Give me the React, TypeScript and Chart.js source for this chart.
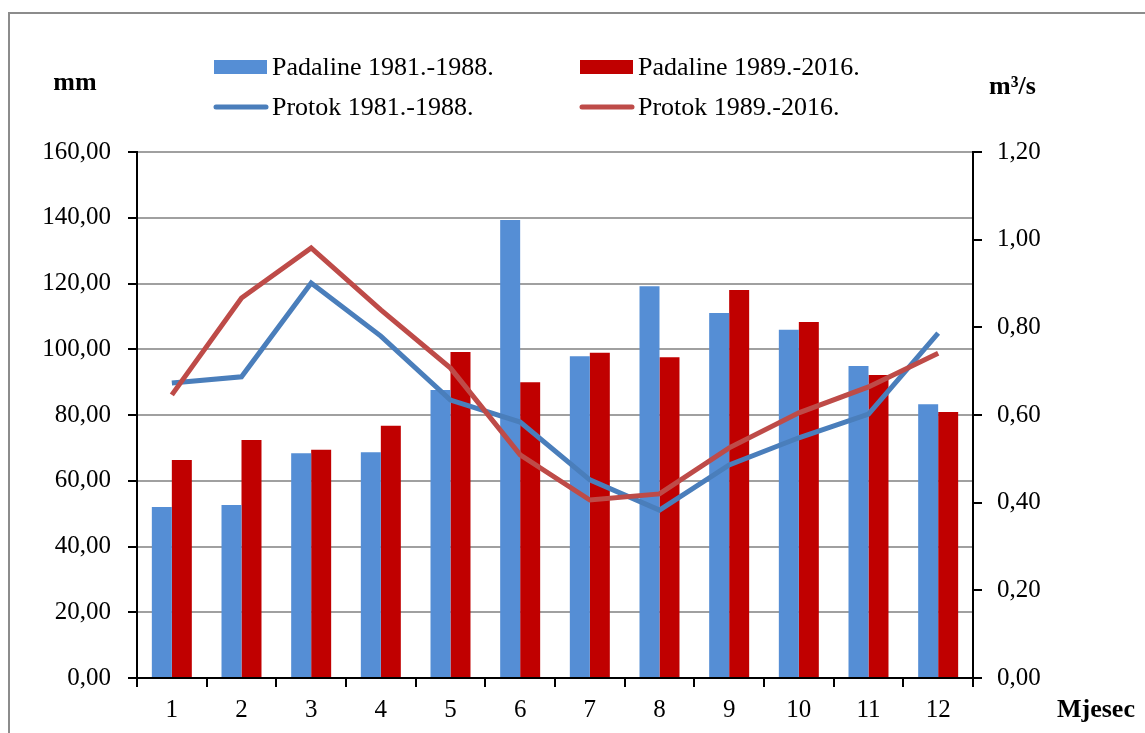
import React, { useEffect, useRef } from "react";
import { Chart, registerables } from "chart.js";

Chart.register(...registerables);

const months = ["1", "2", "3", "4", "5", "6", "7", "8", "9", "10", "11", "12"];
const padaline1981 = [52.0, 52.6, 68.4, 68.7, 87.6, 139.3, 97.9, 119.2, 111.0, 105.9, 94.9, 83.3];
const padaline1989 = [66.3, 72.4, 69.4, 76.7, 99.2, 90.0, 98.9, 97.6, 118.0, 108.3, 92.2, 80.9];
const protok1981 = [0.673, 0.687, 0.901, 0.78, 0.634, 0.584, 0.452, 0.383, 0.486, 0.548, 0.602, 0.787];
const protok1989 = [0.646, 0.867, 0.981, 0.84, 0.707, 0.509, 0.406, 0.42, 0.525, 0.605, 0.664, 0.741];

const labelPadaline1981 = "Padaline 1981.-1988.";
const labelPadaline1989 = "Padaline 1989.-2016.";
const labelProtok1981 = "Protok 1981.-1988.";
const labelProtok1989 = "Protok 1989.-2016.";

const FONT = '"Liberation Serif", "Times New Roman", Times, serif';

const fmt = (v: number) => Number(v).toFixed(2).replace(".", ",");

const decorPlugin = {
  id: "decor",
  afterDraw(chart: any) {
    const ctx = chart.ctx as CanvasRenderingContext2D;
    const ds = chart.data.datasets;
    ctx.save();
    const cols = [214, 580];
    const rows = [67, 107];
    const items = [
      { i: 0, c: 0, r: 0 },
      { i: 1, c: 1, r: 0 },
      { i: 2, c: 0, r: 1 },
      { i: 3, c: 1, r: 1 },
    ];
    ctx.font = `26px ${FONT}`;
    ctx.textBaseline = "middle";
    ctx.textAlign = "left";
    items.forEach(({ i, c, r }) => {
      const d = ds[i];
      const x = cols[c];
      const y = rows[r];
      if (d.type === "line") {
        ctx.strokeStyle = d.borderColor;
        ctx.lineWidth = 5;
        ctx.lineCap = "round";
        ctx.beginPath();
        ctx.moveTo(x + 2, y);
        ctx.lineTo(x + 52, y);
        ctx.stroke();
      } else {
        ctx.fillStyle = d.backgroundColor;
        ctx.fillRect(x, y - 7, 53, 14);
      }
      ctx.fillStyle = "#000";
      ctx.fillText(d.label, x + 58, y + 1);
    });
    ctx.font = `bold 26px ${FONT}`;
    ctx.textAlign = "center";
    ctx.fillText("mm", 75, 83);
    ctx.textAlign = "left";
    ctx.fillText("m³/s", 989, 87);
    ctx.fillText("Mjesec", 1057, 710);
    ctx.restore();
  },
};

export default function App() {
  const ref = useRef<HTMLCanvasElement | null>(null);
  useEffect(() => {
    if (!ref.current) return;
    let chart: any = null;
    let cancelled = false;
    const make = () => {
      if (cancelled || !ref.current) return;
      chart = new Chart(ref.current, {
        type: "bar",
        data: {
          labels: months,
          datasets: [
            {
              type: "bar",
              label: labelPadaline1981,
              data: padaline1981,
              backgroundColor: "#558ED5",
              yAxisID: "y",
              order: 2,
              categoryPercentage: 0.574,
              barPercentage: 1,
            },
            {
              type: "bar",
              label: labelPadaline1989,
              data: padaline1989,
              backgroundColor: "#C00000",
              yAxisID: "y",
              order: 2,
              categoryPercentage: 0.574,
              barPercentage: 1,
            },
            {
              type: "line",
              label: labelProtok1981,
              data: protok1981,
              borderColor: "#4A7EBB",
              borderWidth: 5,
              pointRadius: 0,
              tension: 0,
              yAxisID: "y1",
              order: 1,
            },
            {
              type: "line",
              label: labelProtok1989,
              data: protok1989,
              borderColor: "#BE4B48",
              borderWidth: 5,
              pointRadius: 0,
              tension: 0,
              yAxisID: "y1",
              order: 0,
            },
          ] as any,
        },
        options: {
          animation: false,
          responsive: false,
          maintainAspectRatio: false,
          layout: { padding: { top: 152, left: 0, right: 0, bottom: 0 } },
          plugins: { legend: { display: false }, tooltip: { enabled: false } },
          scales: {
            x: {
              offset: true,
              grid: {
                offset: true,
                drawOnChartArea: false,
                tickLength: 9,
                color: "#000",
                tickColor: "#000",
                lineWidth: 2,
              },
              border: { color: "#000", width: 2 },
              ticks: { font: { family: FONT, size: 25 }, color: "#000", padding: 8 },
              afterFit: (s: any) => {
                s.height = 55;
              },
            },
            y: {
              position: "left",
              min: 0,
              max: 160,
              ticks: {
                stepSize: 20,
                font: { family: FONT, size: 25 },
                color: "#000",
                padding: 17,
                callback: (v: any) => fmt(v),
              },
              grid: { color: "#a0a0a0", lineWidth: 2, tickColor: "#000", tickLength: 9 },
              border: { color: "#000", width: 2 },
              afterFit: (s: any) => {
                s.width = 137;
              },
            },
            y1: {
              position: "right",
              min: 0,
              max: 1.2,
              ticks: {
                stepSize: 0.2,
                font: { family: FONT, size: 25 },
                color: "#000",
                padding: 15,
                callback: (v: any) => fmt(v),
              },
              grid: { drawOnChartArea: false, color: "#000", tickColor: "#000", tickLength: 9, lineWidth: 2 },
              border: { color: "#000", width: 2 },
              afterFit: (s: any) => {
                s.width = 172;
              },
            },
          },
        } as any,
        plugins: [decorPlugin],
      });
    };
    const fonts: any = (document as any).fonts;
    if (fonts && fonts.load) {
      Promise.all([
        fonts.load('25px "Liberation Serif"'),
        fonts.load('bold 26px "Liberation Serif"'),
      ])
        .catch(() => null)
        .then(make);
    } else {
      make();
    }
    return () => {
      cancelled = true;
      if (chart) chart.destroy();
    };
  }, []);

  return (
    <div
      style={{
        position: "absolute",
        left: 0,
        top: 0,
        width: 1145,
        height: 733,
        overflow: "hidden",
        background: "#fff",
      }}
    >
      <div
        style={{
          position: "absolute",
          left: 8,
          top: 12,
          width: 1300,
          height: 900,
          borderLeft: "2px solid #8c8c8c",
          borderTop: "2px solid #8c8c8c",
        }}
      />
      <canvas ref={ref} width={1145} height={733} style={{ position: "absolute", left: 0, top: 0 }} />
      <span style={{ position: "absolute", left: -9999, top: 0, fontFamily: FONT }}>
        Padaline <b>mm</b>
      </span>
    </div>
  );
}
